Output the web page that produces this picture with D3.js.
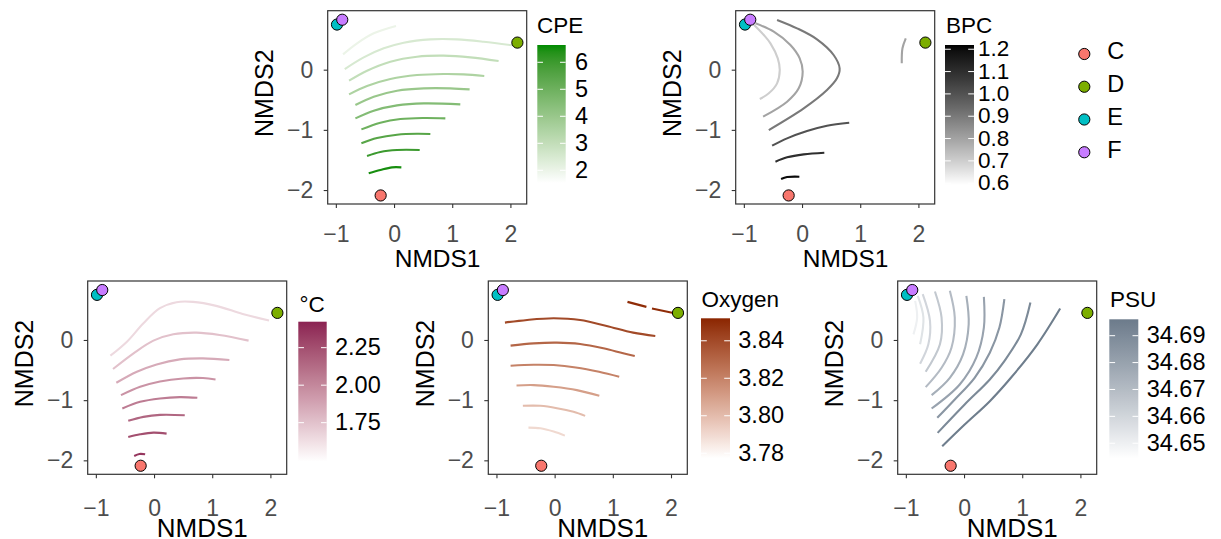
<!DOCTYPE html>
<html>
<head>
<meta charset="utf-8">
<script src="https://cdn.jsdelivr.net/npm/d3@7"></script>
<style>
  body { margin: 0; background: #ffffff; }
  svg { display: block; }
</style>
</head>
<body>
<svg id="chart" width="1221" height="539"></svg>
<script>
// ---- Site scores (NMDS1, NMDS2) ----
const sites = ["C", "D", "E", "F"];
const siteX = [-0.23, 2.12, -0.98, -0.89];
const siteY = [-2.09, 0.45, 0.75, 0.83];
const siteColors = ["#F8766D", "#7CAE00", "#00BFC4", "#C77CFF"];

// ---- Axis ticks ----
const xTicks = [-1, 0, 1, 2];
const yTicks = [0, -1, -2];

// ---- CPE fitted surface contours ----
const cpeLevels = [2.0, 2.5, 3.0, 3.5, 4.0, 4.5, 5.0, 5.5, 6.0, 6.5];
const cpeLines = [
  [[-0.876, 0.255], [-0.635, 0.438], [-0.349, 0.604], [0.034, 0.726]],
  [[-0.847, 0.011], [-0.521, 0.205], [-0.177, 0.355], [0.166, 0.449], [0.624, 0.504], [1.082, 0.504], [1.540, 0.465], [2.084, 0.399]],
  [[-0.773, -0.183], [-0.464, -0.017], [-0.063, 0.133], [0.395, 0.216], [0.853, 0.233], [1.311, 0.205], [1.797, 0.144]],
  [[-0.773, -0.410], [-0.464, -0.271], [-0.063, -0.155], [0.395, -0.089], [0.853, -0.072], [1.196, -0.078], [1.551, -0.105]],
  [[-0.664, -0.587], [-0.349, -0.449], [0.052, -0.349], [0.510, -0.310], [0.968, -0.310], [1.299, -0.327]],
  [[-0.664, -0.809], [-0.349, -0.681], [0.052, -0.593], [0.510, -0.560], [1.139, -0.576]],
  [[-0.561, -0.992], [-0.235, -0.881], [0.109, -0.820], [0.510, -0.803], [0.882, -0.809]],
  [[-0.561, -1.224], [-0.292, -1.136], [0.052, -1.080], [0.395, -1.064], [0.624, -1.069]],
  [[-0.464, -1.435], [-0.235, -1.368], [0.052, -1.335], [0.441, -1.335]],
  [[-0.435, -1.723], [-0.235, -1.668], [-0.034, -1.623], [0.126, -1.623]]
];
const cpeTicks = [2, 3, 4, 5, 6];

// ---- BPC fitted surface contours ----
const bpcLevels = [0.7, 0.8, 0.9, 1.0, 1.1, 1.2, 0.8];
const bpcLines = [
  [[-0.84, 0.76], [-0.66, 0.58], [-0.543, 0.438], [-0.417, 0.188], [-0.383, -0.006], [-0.429, -0.227], [-0.571, -0.393], [-0.726, -0.488]],
  [[-0.800, 0.770], [-0.486, 0.632], [-0.200, 0.410], [-0.040, 0.188], [0.011, -0.033], [-0.057, -0.310], [-0.257, -0.532], [-0.669, -0.781]],
  [[-0.429, 0.826], [-0.086, 0.687], [0.257, 0.504], [0.543, 0.244], [0.646, 0.022], [0.600, -0.144], [0.429, -0.338], [0.029, -0.643], [-0.571, -1.003]],
  [[-0.514, -1.263], [-0.257, -1.141], [0.086, -1.019], [0.429, -0.931], [0.811, -0.881]],
  [[-0.457, -1.529], [-0.257, -1.457], [0.029, -1.407], [0.383, -1.380]],
  [[-0.360, -1.817], [-0.257, -1.784], [-0.046, -1.778]],
  [[1.783, 0.521], [1.726, 0.355], [1.714, 0.105]]
];
const bpcTicks = [0.6, 0.7, 0.8, 0.9, 1.0, 1.1, 1.2];

// ---- Temperature (°C) fitted surface contours ----
const tempLevels = [1.65, 1.75, 1.85, 1.95, 2.05, 2.15, 2.25, 2.35];
const tempLines = [
  [[-0.750, -0.261], [-0.466, -0.028], [-0.182, 0.278], [0.102, 0.528], [0.386, 0.628], [0.670, 0.633], [1.068, 0.567], [1.523, 0.433], [1.977, 0.322]],
  [[-0.705, -0.483], [-0.352, -0.222], [-0.011, -0.011], [0.330, 0.094], [0.727, 0.122], [1.125, 0.083], [1.625, -0.011]],
  [[-0.648, -0.711], [-0.295, -0.528], [0.045, -0.406], [0.443, -0.322], [0.841, -0.306], [1.295, -0.333]],
  [[-0.568, -0.917], [-0.239, -0.778], [0.102, -0.689], [0.500, -0.639], [0.841, -0.633], [1.057, -0.656]],
  [[-0.545, -1.139], [-0.239, -1.028], [0.102, -0.972], [0.443, -0.950], [0.744, -0.961]],
  [[-0.443, -1.344], [-0.182, -1.278], [0.102, -1.244], [0.528, -1.250]],
  [[-0.443, -1.611], [-0.239, -1.567], [-0.011, -1.539], [0.216, -1.556]],
  [[-0.341, -1.928], [-0.250, -1.894], [-0.153, -1.900]]
];
const tempTicks = [1.75, 2.00, 2.25];

// ---- Oxygen fitted surface contours ----
const oxyLevels = [3.85, 3.85, 3.84, 3.83, 3.82, 3.81, 3.80, 3.79];
const oxyLines = [
  [[1.252, 0.633], [1.577, 0.550]],
  [[1.673, 0.522], [2.060, 0.444]],
  [[-0.854, 0.289], [-0.472, 0.333], [-0.017, 0.361], [0.438, 0.333], [0.894, 0.233], [1.349, 0.122], [1.730, 0.067]],
  [[-0.757, -0.094], [-0.359, -0.056], [0.040, -0.044], [0.438, -0.067], [0.837, -0.139], [1.178, -0.222], [1.377, -0.267]],
  [[-0.757, -0.428], [-0.359, -0.411], [-0.017, -0.417], [0.364, -0.456], [0.763, -0.528], [1.110, -0.611]],
  [[-0.655, -0.756], [-0.359, -0.750], [-0.017, -0.778], [0.381, -0.833], [0.768, -0.928]],
  [[-0.546, -1.094], [-0.245, -1.094], [0.040, -1.133], [0.324, -1.194], [0.524, -1.261]],
  [[-0.450, -1.456], [-0.245, -1.467], [-0.017, -1.522], [0.176, -1.589]]
];
const oxyTicks = [3.78, 3.80, 3.82, 3.84];

// ---- Salinity (PSU) fitted surface contours ----
const psuLevels = [34.650, 34.655, 34.660, 34.665, 34.670, 34.675, 34.680, 34.685, 34.690, 34.695];
const psuLines = [
  [[-0.840, 0.650], [-0.806, 0.372], [-0.869, 0.094]],
  [[-0.795, 0.733], [-0.698, 0.372], [-0.755, -0.072]],
  [[-0.710, 0.761], [-0.585, 0.317], [-0.613, -0.072], [-0.755, -0.394]],
  [[-0.500, 0.806], [-0.386, 0.372], [-0.414, -0.072], [-0.659, -0.528]],
  [[-0.244, 0.817], [-0.159, 0.372], [-0.216, -0.128], [-0.386, -0.461], [-0.659, -0.783]],
  [[0.040, 0.733], [0.080, 0.261], [-0.017, -0.239], [-0.244, -0.628], [-0.557, -0.917]],
  [[0.341, 0.717], [0.341, 0.206], [0.210, -0.294], [-0.074, -0.739], [-0.557, -1.139]],
  [[0.693, 0.678], [0.608, 0.206], [0.443, -0.211], [0.182, -0.628], [-0.159, -0.989], [-0.460, -1.294]],
  [[1.141, 0.622], [0.977, 0.094], [0.693, -0.350], [0.443, -0.656], [0.011, -1.072], [-0.454, -1.544]],
  [[1.652, 0.522], [1.261, -0.072], [0.806, -0.628], [0.443, -1.017], [0.011, -1.406], [-0.375, -1.767]]
];
const psuTicks = [34.65, 34.66, 34.67, 34.68, 34.69];

// ---- Drawing ----
const FONT = "'Liberation Sans', Arial, Helvetica, sans-serif";
const svg = d3.select("#chart");
const defs = svg.append("defs");

const W = 199, H = 193.3;
const x = d3.scaleLinear().domain([-1.14, 2.28]).range([0, W]);
const y = d3.scaleLinear().domain([-2.232, 0.98]).range([H, 0]);

const line = d3.line()
  .x(d => x(d[0]))
  .y(d => y(d[1]))
  .curve(d3.curveCatmullRom.alpha(0.5));

const panels = [
  { id: "cpe", title: "CPE", levels: cpeLevels, lines: cpeLines, high: "#008B00",
    domain: [1.53, 6.64], ticks: cpeTicks, fmt: d3.format("d"), labelSize: 23.5,
    left: 327.7, top: 10.7, row: 0,
    bar: { x: 537.3, y: 45, w: 28.4, h: 138, titleX: 537, titleY: 33.3, labelX: 575 } },
  { id: "bpc", title: "BPC", levels: bpcLevels, lines: bpcLines, high: "#000000",
    domain: [0.592, 1.219], ticks: bpcTicks, fmt: d3.format(".1f"), labelSize: 22.5,
    left: 735.7, top: 10.7, row: 0,
    bar: { x: 945, y: 45, w: 29, h: 140, titleX: 946, titleY: 33.3, labelX: 978 } },
  { id: "temp", title: "°C", levels: tempLevels, lines: tempLines, high: "#8B2252",
    domain: [1.49, 2.423], ticks: tempTicks, fmt: d3.format(".2f"), labelSize: 23.5,
    left: 87.7, top: 281, row: 1,
    bar: { x: 298.3, y: 321.7, w: 28.4, h: 140, titleX: 299.5, titleY: 311.7, labelX: 335 } },
  { id: "oxy", title: "Oxygen", levels: oxyLevels, lines: oxyLines, high: "#8B2500",
    domain: [3.7773, 3.852], ticks: oxyTicks, fmt: d3.format(".2f"), labelSize: 23.5,
    left: 488.3, top: 281, row: 1,
    bar: { x: 701, y: 318.3, w: 29, h: 140, titleX: 701.5, titleY: 307.3, labelX: 738.3 } },
  { id: "psu", title: "PSU", levels: psuLevels, lines: psuLines, high: "#6C7B8B",
    domain: [34.6444, 34.6961], ticks: psuTicks, fmt: d3.format(".2f"), labelSize: 23.5,
    left: 897.7, top: 281, row: 1,
    bar: { x: 1109.3, y: 319.3, w: 29, h: 139, titleX: 1110, titleY: 307.3, labelX: 1146.7 } }
];

// Per-row axis text placement
const rowStyle = [
  { xPad: 18, xTitleSize: 24.5, xTitleDX: 67, xTitleDY: 63 },
  { xPad: 21.5, xTitleSize: 26, xTitleDX: 69, xTitleDY: 63 }
];

panels.forEach(p => {
  const interp = d3.interpolateLab("#FFFFFF", p.high);
  const color = d3.scaleSequential(interp).domain(p.domain).clamp(true);
  const rs = rowStyle[p.row];

  const g = svg.append("g").attr("transform", `translate(${p.left},${p.top})`);

  defs.append("clipPath").attr("id", `clip-${p.id}`)
    .append("rect").attr("width", W).attr("height", H);

  // contour lines
  g.append("g").attr("clip-path", `url(#clip-${p.id})`)
    .selectAll("path").data(p.lines).join("path")
    .attr("d", line)
    .attr("fill", "none")
    .attr("stroke", (d, i) => color(p.levels[i]))
    .attr("stroke-width", 2.1)
    .attr("stroke-linecap", "butt");

  // site points
  g.append("g").selectAll("circle").data(sites).join("circle")
    .attr("cx", (d, i) => x(siteX[i]))
    .attr("cy", (d, i) => y(siteY[i]))
    .attr("r", 5.6)
    .attr("fill", (d, i) => siteColors[i])
    .attr("stroke", "#000")
    .attr("stroke-width", 1);

  // panel border
  g.append("rect").attr("width", W).attr("height", H)
    .attr("fill", "none").attr("stroke", "#333333").attr("stroke-width", 1.2);

  // x axis
  const xa = g.append("g").attr("transform", `translate(0,${H})`)
    .call(d3.axisBottom(x).tickValues(xTicks).tickSize(4).tickPadding(rs.xPad).tickFormat(d3.format("d")));
  xa.select(".domain").remove();
  xa.selectAll(".tick line").attr("stroke", "#333333").attr("stroke-width", 1.1);
  xa.selectAll(".tick text").attr("fill", "#4D4D4D")
    .style("font-size", "23px").style("font-family", FONT);

  // y axis
  const ya = g.append("g")
    .call(d3.axisLeft(y).tickValues(yTicks).tickSize(4).tickPadding(10.4).tickFormat(d3.format("d")));
  ya.select(".domain").remove();
  ya.selectAll(".tick line").attr("stroke", "#333333").attr("stroke-width", 1.1);
  ya.selectAll(".tick text").attr("fill", "#4D4D4D")
    .style("font-size", "23px").style("font-family", FONT);

  // axis titles
  g.append("text")
    .attr("x", rs.xTitleDX).attr("y", H + rs.xTitleDY)
    .attr("text-anchor", "start")
    .style("font-size", rs.xTitleSize + "px").style("font-family", FONT)
    .attr("fill", "#000").text("NMDS1");
  g.append("text")
    .attr("transform", `translate(-54.5,82.5) rotate(-90)`)
    .attr("text-anchor", "middle")
    .style("font-size", "25px").style("font-family", FONT)
    .attr("fill", "#000").text("NMDS2");

  // colour bar
  const b = p.bar;
  const grad = defs.append("linearGradient").attr("id", `grad-${p.id}`)
    .attr("x1", 0).attr("y1", 1).attr("x2", 0).attr("y2", 0);
  d3.range(0, 1.0001, 0.05).forEach(t => {
    grad.append("stop").attr("offset", t).attr("stop-color", interp(t));
  });
  svg.append("rect").attr("x", b.x).attr("y", b.y).attr("width", b.w).attr("height", b.h)
    .attr("fill", `url(#grad-${p.id})`);

  const cy = d3.scaleLinear().domain(p.domain).range([b.y + b.h, b.y]);
  const tl = b.w * 0.2;
  const cb = svg.append("g");
  p.ticks.forEach(v => {
    const ty = cy(v);
    cb.append("line").attr("x1", b.x).attr("x2", b.x + tl).attr("y1", ty).attr("y2", ty)
      .attr("stroke", "#fff").attr("stroke-width", 1);
    cb.append("line").attr("x1", b.x + b.w - tl).attr("x2", b.x + b.w).attr("y1", ty).attr("y2", ty)
      .attr("stroke", "#fff").attr("stroke-width", 1);
    cb.append("text").attr("x", b.labelX).attr("y", ty - 1).attr("dy", "0.36em")
      .style("font-size", p.labelSize + "px").style("font-family", FONT)
      .attr("fill", "#000").text(p.fmt(v));
  });
  svg.append("text").attr("x", b.titleX).attr("y", b.titleY)
    .style("font-size", "22.5px").style("font-family", FONT)
    .attr("fill", "#000").text(p.title);
});

// ---- Site legend ----
const legend = svg.append("g");
sites.forEach((s, i) => {
  const ly = 54 + i * 32.75;
  legend.append("circle").attr("cx", 1084.3).attr("cy", ly).attr("r", 5.6)
    .attr("fill", siteColors[i]).attr("stroke", "#000").attr("stroke-width", 1);
  legend.append("text").attr("x", 1107.3).attr("y", ly - 3).attr("dy", "0.36em")
    .style("font-size", "23.5px").style("font-family", FONT)
    .attr("fill", "#000").text(s);
});
</script>
</body>
</html>
